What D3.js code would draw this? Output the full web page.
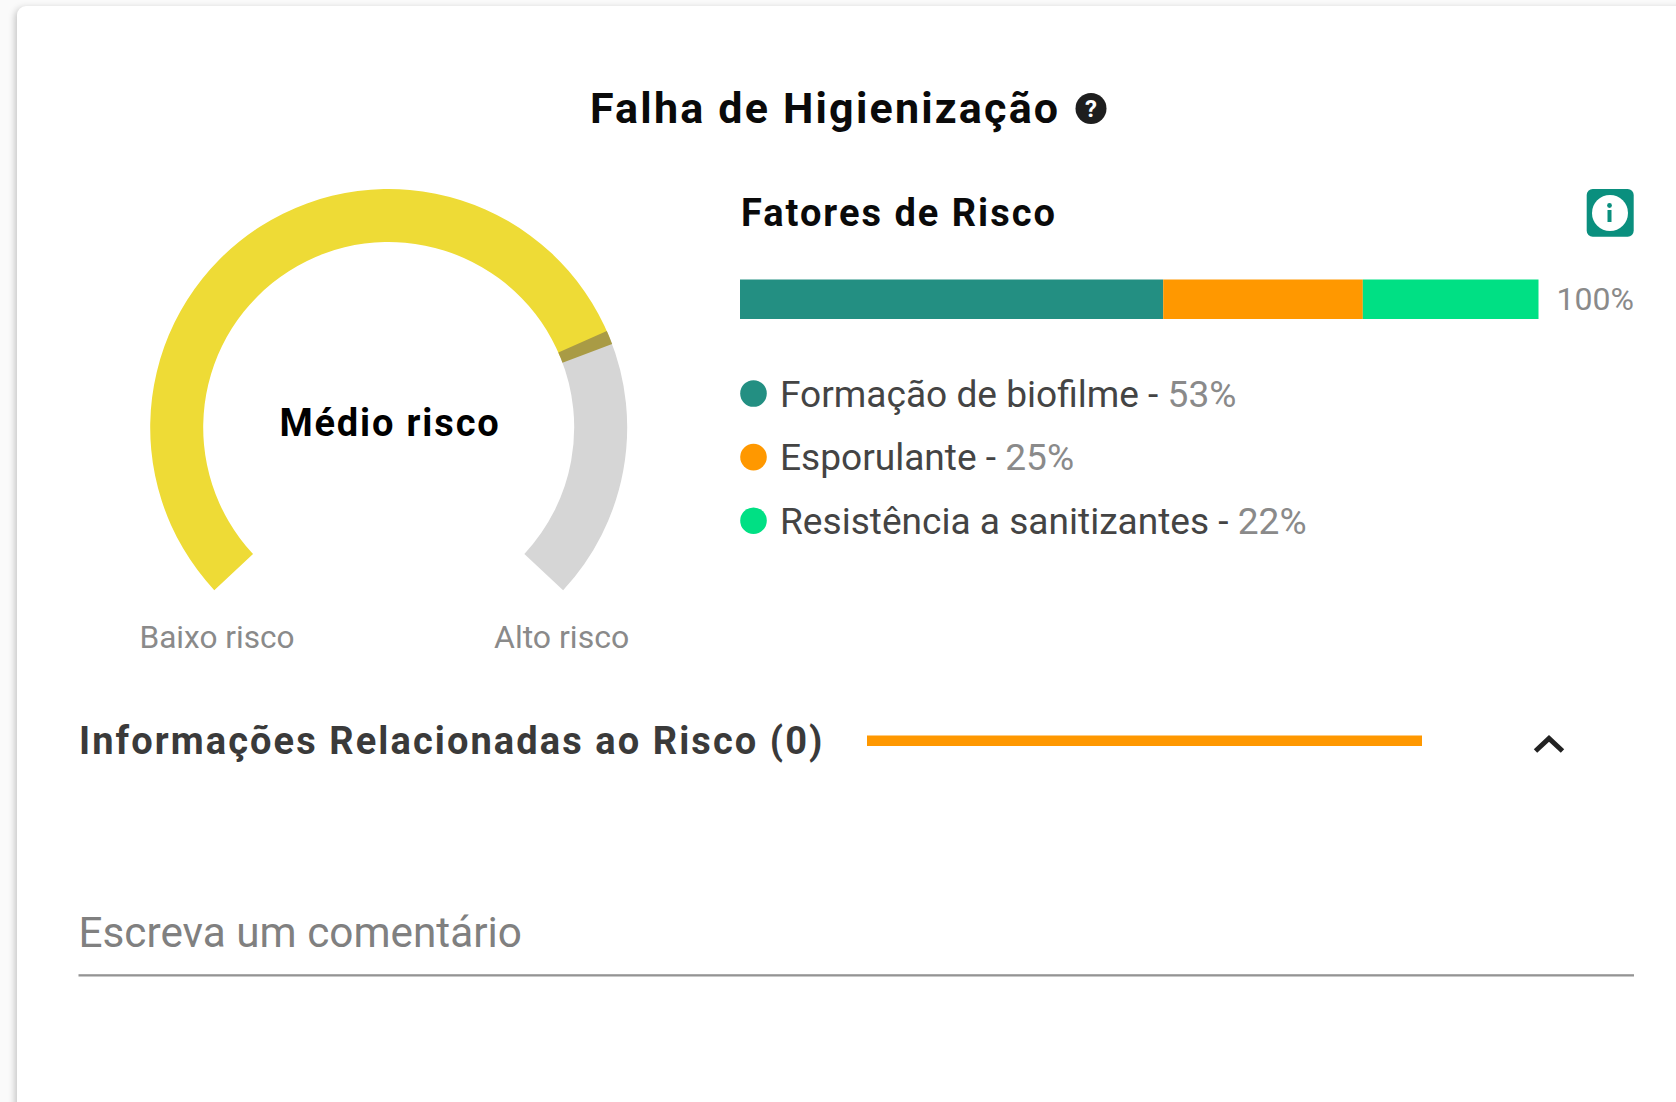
<!DOCTYPE html>
<html><head><meta charset="utf-8">
<script src="https://cdn.jsdelivr.net/npm/d3@7"></script>
<style>
html,body{margin:0;padding:0;width:1676px;height:1102px;overflow:hidden;background:#fafafa}
#card{position:absolute;left:17px;top:6px;width:1700px;height:1200px;background:#fff;border-radius:9px;box-shadow:-2px 2px 7px rgba(0,0,0,.22)}
svg{position:absolute;left:0;top:0}
text{font-family:Roboto,sans-serif}
</style></head><body><div id="card"></div><svg id="c" width="1676" height="1102"></svg>
<script>
const riskCategories=["Formação de biofilme","Esporulante","Resistência a sanitizantes"];
const riskValues=[53,25,22];
const riskColors=["#238F82","#FF9800","#00E084"];
const gaugeValue=75.5;
const gaugeDomain=[0,100];
const totalLabel="100%";

const svg=d3.select("#c");
const txt=(s,x,y,size,weight,fill,ls,anchor)=>svg.append("text").attr("x",x).attr("y",y)
  .attr("font-size",size).attr("font-weight",weight).attr("fill",fill)
  .attr("letter-spacing",ls||0).attr("text-anchor",anchor||"start").text(s);

// title
txt("Falha de Higienização",590,122.5,43,700,"#0a0a0a",2.2);
svg.append("circle").attr("cx",1091).attr("cy",108.5).attr("r",15.5).attr("fill","#1e1e1e");
txt("?",1091,117,24,700,"#fff",0,"middle");

// gauge
const cx=388.7,cy=427.5,ro=238.5,ri=185.5,deg=Math.PI/180;
const angle=d3.scaleLinear().domain(gaugeDomain).range([-133*deg,133*deg]);
const arc=d3.arc().innerRadius(ri).outerRadius(ro);
const g=svg.append("g").attr("transform",`translate(${cx},${cy})`);
const dw=1.7*deg;
g.append("path").attr("fill","#D6D6D6").attr("d",arc({startAngle:angle(gaugeValue),endAngle:angle(100)}));
g.append("path").attr("fill","#EEDB36").attr("d",arc({startAngle:angle(0),endAngle:angle(gaugeValue)}));
g.append("path").attr("fill","#A99B45").attr("d",arc({startAngle:angle(gaugeValue)-dw,endAngle:angle(gaugeValue)+dw}));
txt("Médio risco",390,436,38,700,"#000",1.85,"middle");
txt("Baixo risco",139.5,647.5,31.6,400,"#8a8a8a",0);
txt("Alto risco",494,647.5,32,400,"#8a8a8a",0);

// factors
txt("Fatores de Risco",741,225.5,38,700,"#0a0a0a",2);
svg.append("rect").attr("x",1586.7).attr("y",189).attr("width",47).attr("height",47.7).attr("rx",6).attr("fill","#0A8F7E");
svg.append("circle").attr("cx",1610).attr("cy",213).attr("r",18).attr("fill","#fff");
svg.append("circle").attr("cx",1609.5).attr("cy",205.5).attr("r",2.4).attr("fill","#0A8F7E");
svg.append("rect").attr("x",1607.5).attr("y",210).attr("width",4).attr("height",12).attr("fill","#0A8F7E");

const x=d3.scaleLinear().domain([0,d3.sum(riskValues)]).range([740,1538.5]);
const stack=d3.cumsum(riskValues);
svg.selectAll("rect.bar").data(riskValues).join("rect").attr("class","bar")
  .attr("x",(d,i)=>x(stack[i]-d)).attr("width",d=>x(d)-x(0))
  .attr("y",279.5).attr("height",39.5).attr("fill",(d,i)=>riskColors[i]);
txt(totalLabel,1556.5,310,32,400,"#8a8a8a",0);

const ly=d3.scalePoint().domain(riskCategories).range([393.5,520.7]);
riskCategories.forEach((c,i)=>{
  svg.append("circle").attr("cx",753.5).attr("cy",ly(c)).attr("r",13.3).attr("fill",riskColors[i]);
  const t=svg.append("text").attr("x",780).attr("y",ly(c)+13).attr("font-size",37.1).attr("fill","#444");
  t.append("tspan").text(c+" - ");
  t.append("tspan").attr("fill","#8a8a8a").text(riskValues[i]+"%");
});

// related
txt("Informações Relacionadas ao Risco (0)",79,754,38,700,"#3a3a3a",2.08);
svg.append("rect").attr("x",867).attr("y",735.5).attr("width",555).attr("height",10.5).attr("fill","#FF9800");
svg.append("path").attr("d","M1535.5 751 L1549 738.5 L1562.5 751").attr("fill","none").attr("stroke","#222").attr("stroke-width",5);

// comment
txt("Escreva um comentário",78.5,946.5,42.3,400,"#808080",0);
svg.append("rect").attr("x",78.5).attr("y",974.2).attr("width",1555.5).attr("height",2.3).attr("fill","#949494");
</script></body></html>
